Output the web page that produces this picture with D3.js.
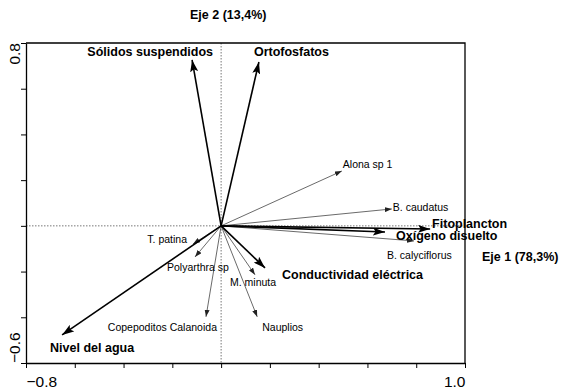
<!DOCTYPE html>
<html><head><meta charset="utf-8">
<script src="https://cdn.jsdelivr.net/npm/d3@7"></script>
<style>body{margin:0;background:#fff}svg{display:block}text{font-family:"Liberation Sans",Arial,sans-serif}</style>
</head><body><svg id="c" width="564" height="390"></svg>
<script>
// Environmental variables (bold arrows)
const envNames = ["Sólidos suspendidos","Ortofosfatos","Fitoplancton","Oxígeno disuelto","Conductividad eléctrica","Nivel del agua"];
const envX = [-0.119, 0.155, 0.857, 0.672, 0.180, -0.652];
const envY = [0.726, 0.717, -0.014, -0.027, -0.184, -0.477];
// Species (thin arrows)
const spNames = ["Alona sp 1","B. caudatus","B. calyciflorus","T. patina","Polyarthra sp","M. minuta","Copepoditos Calanoida","Nauplios"];
const spX = [0.495, 0.700, 0.791, -0.115, -0.107, 0.139, -0.062, 0.148];
const spY = [0.240, 0.074, -0.066, -0.079, -0.136, -0.214, -0.398, -0.398];
const xTicks = [-0.8,-0.6,-0.4,-0.2,0,0.2,0.4,0.6,0.8,1.0];
const yTicks = [-0.6,-0.4,-0.2,0,0.2,0.4,0.6,0.8];
const xLabel = "Eje 1 (78,3%)", yLabel = "Eje 2 (13,4%)";

// label layout (pixel offsets from arrow tip, anchor)
const envLab = [[21,-8,"end"],[-5,-10,"start"],[2,-5,"start"],[11,4,"start"],[17,7,"start"],[-12,13,"start"]];
const spLab = [[1,-7,"start"],[1,-2,"start"],[-27,14,"start"],[-6,-5,"end"],[-28,10,"start"],[-25,8,"start"],[11,10,"end"],[5,10,"start"]];

const svg = d3.select("#c");
const L=26,R=465,T=43,B=363;
const x = d3.scaleLinear().domain([-0.8,1.0]).range([L,R]);
const y = d3.scaleLinear().domain([-0.6,0.8]).range([B,T]);

const defs = svg.append("defs");
defs.append("marker").attr("id","big").attr("markerUnits","userSpaceOnUse")
  .attr("viewBox","0 0 12 8").attr("refX",12).attr("refY",4)
  .attr("markerWidth",12).attr("markerHeight",8).attr("orient","auto")
  .append("path").attr("d","M0,0 L12,4 L0,8 L2.5,4 Z").attr("fill","#000");
defs.append("marker").attr("id","small").attr("markerUnits","userSpaceOnUse")
  .attr("viewBox","0 0 7 5").attr("refX",7).attr("refY",2.5)
  .attr("markerWidth",7).attr("markerHeight",5).attr("orient","auto")
  .append("path").attr("d","M0,0 L7,2.5 L0,5 Z").attr("fill","#222");

// dotted zero lines
svg.append("line").attr("x1",L).attr("x2",R).attr("y1",y(0)).attr("y2",y(0))
  .attr("stroke","#777").attr("stroke-width",1).attr("stroke-dasharray","1.5,1.5");
svg.append("line").attr("x1",x(0)).attr("x2",x(0)).attr("y1",T).attr("y2",B)
  .attr("stroke","#777").attr("stroke-width",1).attr("stroke-dasharray","1.5,1.5");

// axes
const xa = svg.append("g").attr("transform",`translate(0,${B})`)
  .call(d3.axisBottom(x).tickValues(xTicks).tickSize(5).tickSizeOuter(0)
    .tickFormat(d => (d===-0.8||d===1.0) ? d3.format(".1f")(d) : ""));
xa.selectAll("text").attr("font-size","15.5px").attr("fill","#000").attr("dy","1em")
  .attr("text-anchor", d => d===-0.8 ? "start" : "end");
const ya = svg.append("g").attr("transform",`translate(${L},0)`)
  .call(d3.axisLeft(y).tickValues(yTicks).tickSize(5).tickSizeOuter(0).tickFormat(""));
[xa,ya].forEach(g=>{g.selectAll("path").attr("stroke","#000").attr("stroke-width",1.3);
  g.selectAll("line").attr("stroke","#000").attr("stroke-width",1);});
// top and right border
svg.append("path").attr("d",`M${L},${T}H${R}V${B}`).attr("fill","none").attr("stroke","#000").attr("stroke-width",1.3);
// y end labels rotated
[[0.8,"end",T],[-0.6,"start",B]].forEach(([v,a,py])=>{
  svg.append("text").attr("transform",`translate(20,${py}) rotate(-90)`)
    .attr("text-anchor",a).attr("font-size","15.5px").text(d3.format(".1f")(v));
});

const ox=x(0), oy=y(0);
// species arrows
spNames.forEach((n,i)=>{
  svg.append("line").attr("x1",ox).attr("y1",oy).attr("x2",x(spX[i])).attr("y2",y(spY[i]))
    .attr("stroke","#444").attr("stroke-width",0.8).attr("marker-end","url(#small)");
});
// env arrows
envNames.forEach((n,i)=>{
  svg.append("line").attr("x1",ox).attr("y1",oy).attr("x2",x(envX[i])).attr("y2",y(envY[i]))
    .attr("stroke","#000").attr("stroke-width",1.6).attr("marker-end","url(#big)");
});
// labels
spNames.forEach((n,i)=>{
  const [dx,dy,a]=spLab[i];
  svg.append("text").attr("x",x(spX[i])+dx).attr("y",y(spY[i])+dy).attr("dy","0.35em")
    .attr("text-anchor",a).attr("font-size","10.5px").attr("fill","#000").text(n);
});
envNames.forEach((n,i)=>{
  const [dx,dy,a]=envLab[i];
  svg.append("text").attr("x",x(envX[i])+dx).attr("y",y(envY[i])+dy).attr("dy","0.35em")
    .attr("text-anchor",a).attr("font-size","12.5px").attr("font-weight","bold").attr("fill","#000").text(n);
});
svg.append("text").attr("x",190).attr("y",15).attr("dy","0.35em").attr("font-size","12.5px").attr("font-weight","bold").text(yLabel);
svg.append("text").attr("x",482).attr("y",257).attr("dy","0.35em").attr("font-size","12.5px").attr("font-weight","bold").text(xLabel);
</script></body></html>
